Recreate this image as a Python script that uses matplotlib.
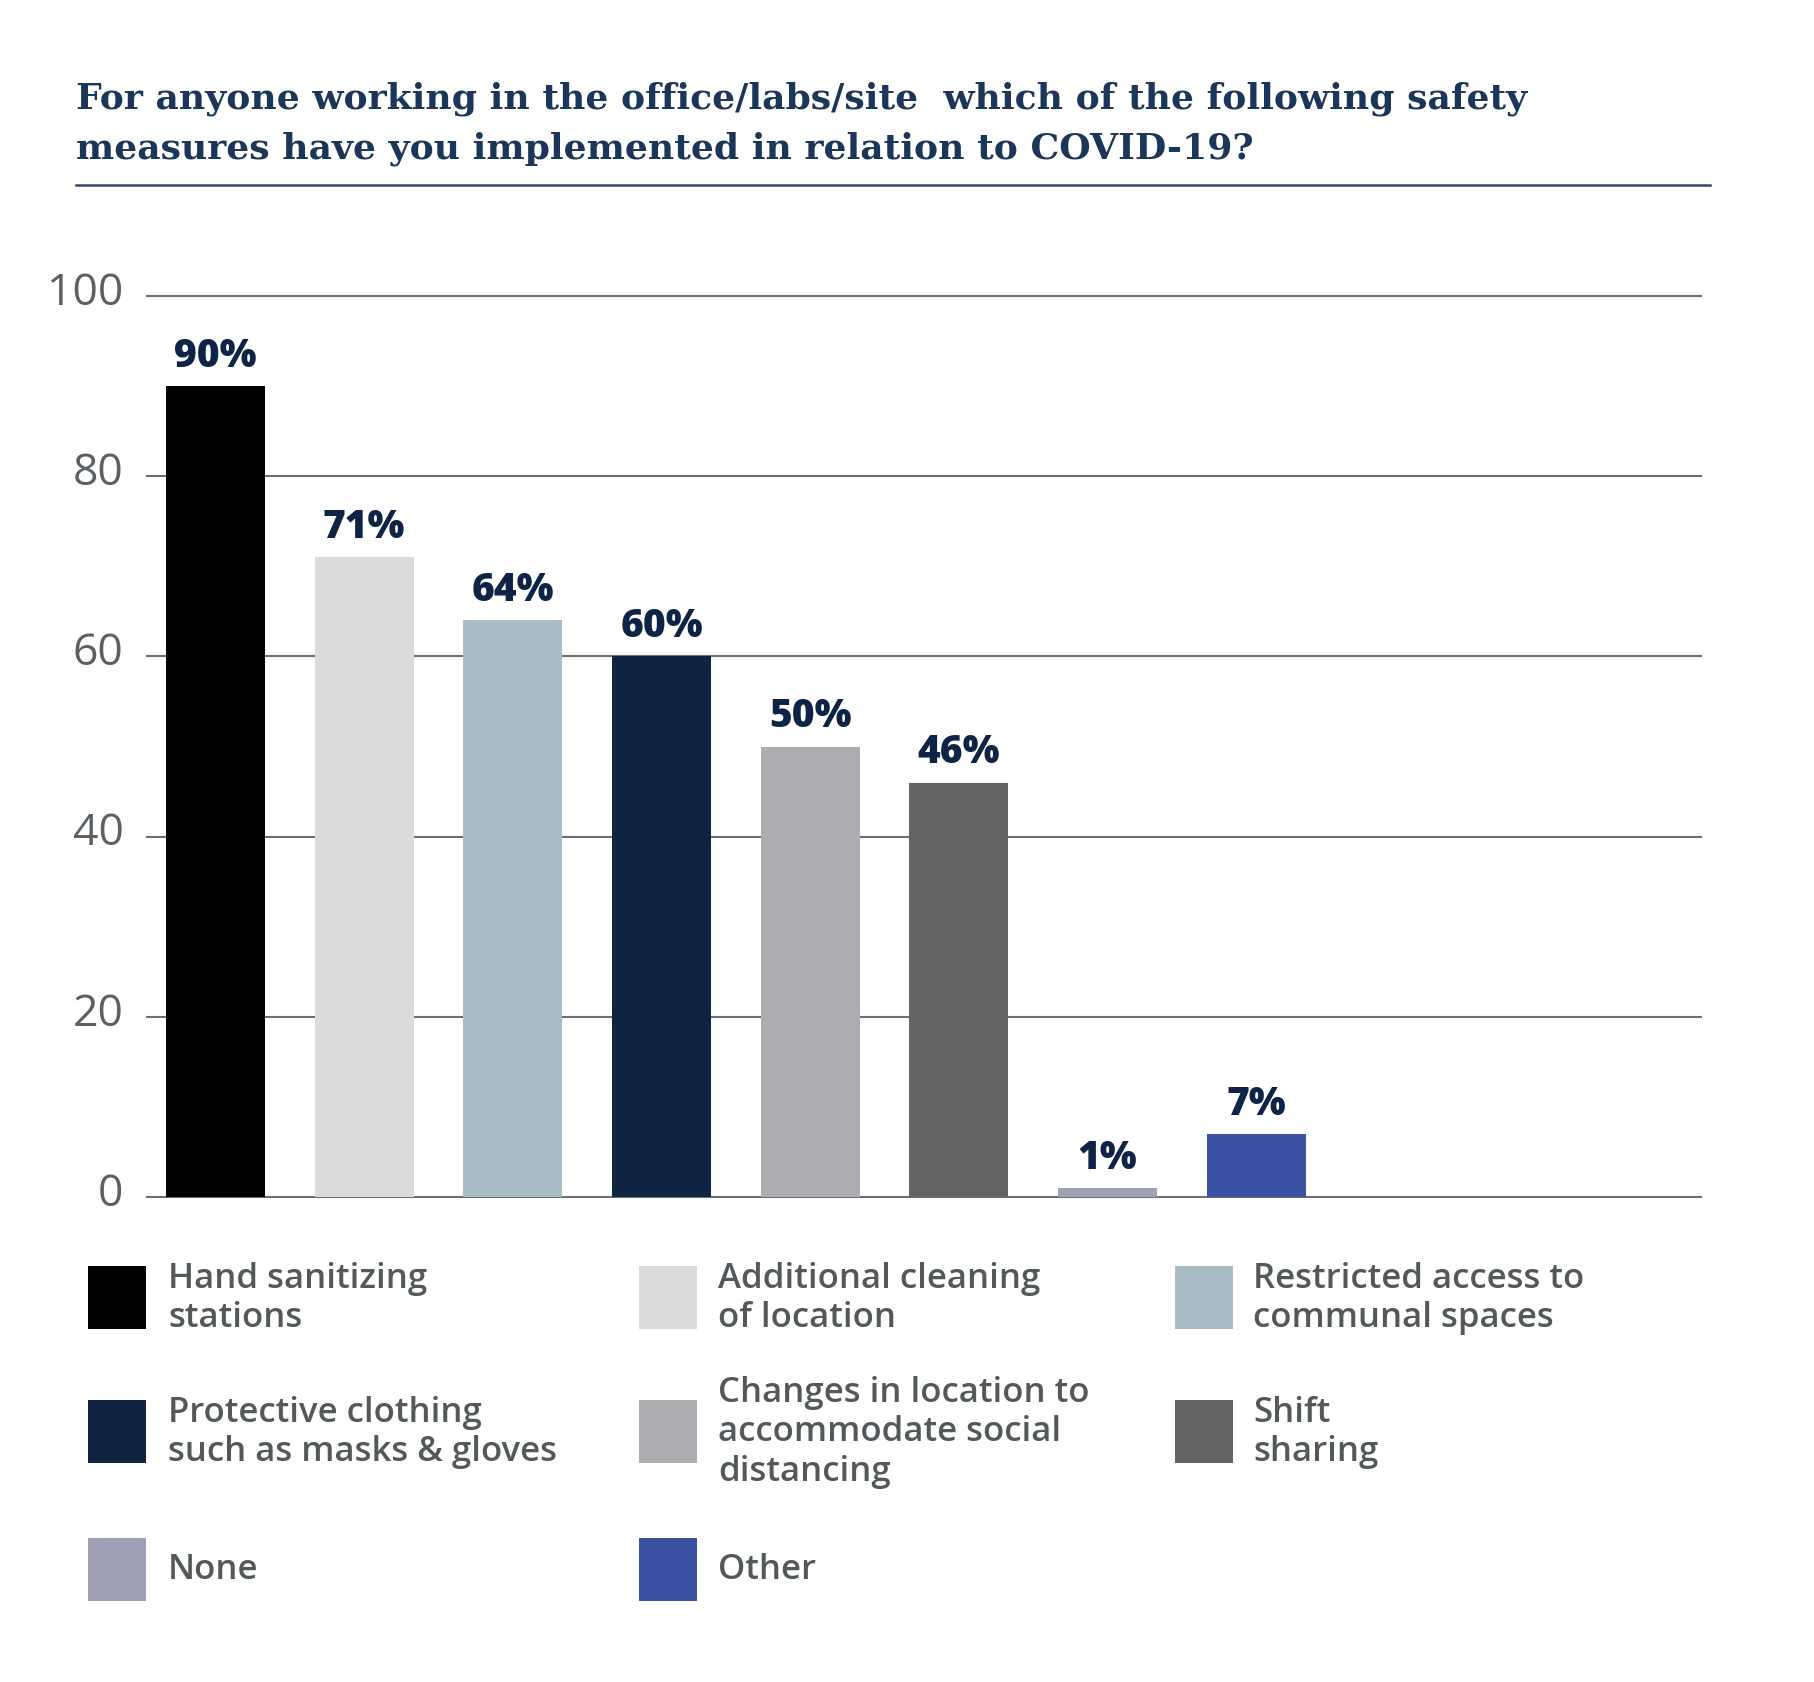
import matplotlib
matplotlib.use("Agg")
import matplotlib.pyplot as plt
import matplotlib.transforms as mtransforms
from matplotlib.patches import Rectangle
from matplotlib.lines import Line2D

# ---- data ----
categories = [
    "Hand sanitizing\nstations",
    "Additional cleaning\nof location",
    "Restricted access to\ncommunal spaces",
    "Protective clothing\nsuch as masks & gloves",
    "Changes in location to\naccommodate social\ndistancing",
    "Shift\nsharing",
    "None",
    "Other",
]
values = [90, 71, 64, 60, 50, 46, 1, 7]
value_labels = ["90%", "71%", "64%", "60%", "50%", "46%", "1%", "7%"]
colors = ["#000000", "#dcdbda", "#a7bcc4", "#0f2342", "#acadb0", "#636466", "#a0a1b6", "#3b52a3"]
yticks = [0, 20, 40, 60, 80, 100]
title_lines = [
    "For anyone working in the office/labs/site  which of the following safety",
    "measures have you implemented in relation to COVID-19?",
]

W, H = 1815, 1683
fig = plt.figure(figsize=(W / 100, H / 100), dpi=100)
fig.patch.set_facecolor("white")

# ---- title ----
title_color = "#1b3658"
fig.text(76 / W, 1 - 108 / H, title_lines[0], family="DejaVu Serif", weight="bold",
         fontsize=26, color=title_color, ha="left", va="baseline")
fig.text(76 / W, 1 - 158 / H, title_lines[1], family="DejaVu Serif", weight="bold",
         fontsize=26, color=title_color, ha="left", va="baseline")
fig.add_artist(Line2D([76 / W, 1710 / W], [1 - 186 / H, 1 - 186 / H],
                      transform=fig.transFigure, color="#2d4a6b", lw=1.8))

# ---- axes ----
ax = fig.add_axes([147 / W, 1 - 1198 / H, (1701 - 147) / W, (1198 - 297) / H])
x = list(range(len(values)))
ax.bar(x, values, width=0.666, color=colors, zorder=3)
ax.set_xlim(-0.46, 9.99)
ax.set_ylim(0, 100)
ax.set_yticks(yticks)
ax.set_yticklabels([str(t) for t in yticks])
ax.set_xticks([])
for s in ax.spines.values():
    s.set_visible(False)
ax.tick_params(axis="y", length=0, pad=17, labelsize=32, labelcolor="#5b6064")
for lab in ax.get_yticklabels():
    lab.set_family("Open Sans")
    lab.set_transform(lab.get_transform() + mtransforms.ScaledTranslation(0, 9 / 100, fig.dpi_scale_trans))
ax.yaxis.grid(True, color="#6d7073", lw=1.5)
ax.set_axisbelow(True)
for gl in ax.get_ygridlines():
    gl.set_clip_on(False)

for xi, v, lab in zip(x, values, value_labels):
    ax.annotate(lab, (xi, v), xytext=(0, 14.5), textcoords="offset points",
                ha="center", va="baseline", fontsize=28, fontweight="heavy",
                family="Open Sans", color="#0e2345", zorder=4)

# ---- legend ----
col_box_x = [88, 639, 1175]
col_text_x = [168, 718, 1253]
row_yc = [1298.5, 1432.5, 1570]
bw, bh = 58, 63
for i, (cat, col) in enumerate(zip(categories, colors)):
    r, c = divmod(i, 3)
    yc = row_yc[r]
    fig.add_artist(Rectangle((col_box_x[c] / W, 1 - (yc + bh / 2) / H), bw / W, bh / H,
                             transform=fig.transFigure, facecolor=col, edgecolor="none"))
    fig.text(col_text_x[c] / W, 1 - yc / H, cat, family="Open Sans", fontsize=25,
             weight="semibold", color="#53585b", ha="left", va="center", linespacing=1.22)

fig.savefig("out.png", dpi=100, facecolor="white")
